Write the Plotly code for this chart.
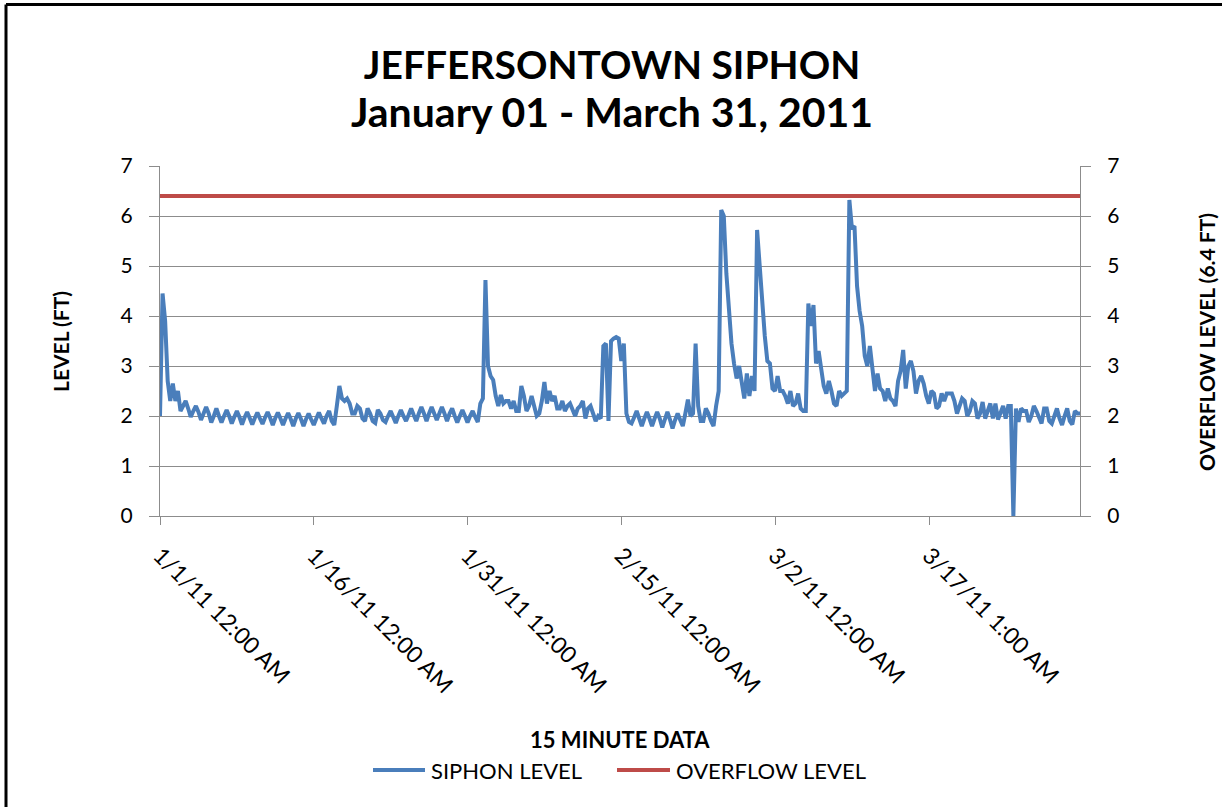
import pandas as pd
import plotly.graph_objects as go

# ---------------- data ----------------
title_line1 = "JEFFERSONTOWN SIPHON"
title_line2 = "January 01 - March 31, 2011"
series_start = "2011-01-01 00:00"
sample_step = "6h"

# siphon level (ft), four readings per day (00:00, 06:00, 12:00, 18:00), Jan 1 .. Mar 31
siphon_level = [
    2.0, 4.45, 3.9, 2.7,      # 1/1
    2.3, 2.65, 2.3, 2.5,
    2.1, 2.2, 2.3, 2.15,
    1.98, 2.1, 2.2, 2.08,
    1.92, 2.05, 2.18, 2.05,
    1.87, 2.0, 2.15, 2.0,
    1.87, 2.0, 2.12, 2.0,
    1.85, 1.98, 2.1, 1.98,
    1.83, 1.97, 2.08, 1.96,
    1.83, 1.96, 2.07, 1.95,
    1.84, 1.97, 2.08, 1.96,
    1.82, 1.96, 2.07, 1.95,
    1.82, 1.95, 2.06, 1.94,
    1.8, 1.95, 2.06, 1.94,
    1.8, 1.94, 2.05, 1.93,
    1.82, 1.95, 2.07, 1.95,   # 1/16
    1.85, 2.0, 2.1, 1.9,
    1.82, 2.2, 2.6, 2.35,
    2.3, 2.35, 2.25, 2.05,
    2.05, 2.2, 2.15, 1.95,
    1.9, 2.15, 2.05, 1.9,
    1.86, 2.12, 2.05, 1.92,
    1.88, 2.0, 2.1, 1.98,
    1.86, 2.0, 2.12, 2.0,
    1.9, 2.02, 2.15, 2.02,
    1.9, 2.05, 2.18, 2.05,
    1.9, 2.05, 2.18, 2.05,
    1.92, 2.05, 2.18, 2.05,
    1.9, 2.05, 2.15, 2.0,
    1.87, 2.0, 2.12, 2.0,
    1.87, 2.0, 2.1, 1.98,     # 1/31
    1.88, 2.25, 2.35, 4.72,
    3.0, 2.8, 2.72, 2.4,
    2.2, 2.42, 2.25, 2.3,
    2.3, 2.15, 2.3, 2.1,
    2.1, 2.6, 2.4, 2.1,
    2.2, 2.4, 2.2, 2.0,
    2.05, 2.3, 2.68, 2.25,
    2.5, 2.3, 2.4, 2.15,
    2.15, 2.3, 2.1, 2.2,
    2.25, 2.1, 2.0, 2.15,
    2.2, 2.3, 1.95, 2.15,
    2.2, 2.05, 1.9, 2.0,
    1.95, 3.4, 3.45, 1.9,
    3.5, 3.55, 3.58, 3.55,
    3.1, 3.45, 2.05, 1.88,    # 2/15
    1.85, 1.97, 2.1, 1.95,
    1.8, 1.95, 2.08, 1.95,
    1.8, 1.95, 2.08, 1.95,
    1.77, 1.93, 2.08, 1.93,
    1.75, 1.92, 2.05, 1.92,
    1.8, 2.05, 2.33, 2.0,
    2.05, 3.45, 2.2, 1.9,
    1.9, 2.15, 2.05, 1.9,
    1.8, 2.2, 2.5, 6.12,
    6.0, 4.85, 4.1, 3.45,
    3.05, 2.75, 3.0, 2.7,
    2.35, 2.85, 2.4, 2.8,
    2.5, 5.72, 5.0, 4.1,
    3.6, 3.1, 3.05, 2.55,
    2.5, 2.8, 2.5, 2.5,       # 3/2
    2.4, 2.25, 2.5, 2.2,
    2.25, 2.45, 2.15, 2.1,
    2.1, 4.25, 3.8, 4.22,
    3.05, 3.3, 2.95, 2.6,
    2.45, 2.7, 2.5, 2.25,
    2.2, 2.5, 2.4, 2.45,
    2.5, 6.32, 5.75, 5.8,
    4.6, 4.1, 3.8, 3.2,
    3.0, 3.4, 3.0, 2.5,
    2.85, 2.55, 2.5, 2.3,
    2.55, 2.35, 2.3, 2.2,
    2.7, 2.9, 3.32, 2.55,
    3.0, 3.1, 2.9, 2.45,
    2.7, 2.8, 2.65, 2.4,
    2.25, 2.5, 2.45, 2.15,    # 3/17
    2.2, 2.45, 2.3, 2.45,
    2.45, 2.45, 2.3, 2.05,
    2.2, 2.35, 2.3, 2.0,
    2.1, 2.3, 2.25, 1.95,
    2.05, 2.28, 1.95, 2.1,
    2.25, 1.95, 2.25, 1.93,
    2.05, 2.2, 1.95, 2.2,
    2.2, 0.0, 2.15, 1.88,
    2.15, 2.1, 2.1, 1.88,
    2.0, 2.2, 2.1, 1.95,
    1.85, 2.15, 2.15, 1.9,
    1.85, 2.0, 2.15, 1.95,
    1.82, 2.0, 2.15, 1.9,
    1.83, 2.1, 2.05, 2.05,    # 3/31
]
overflow_level_ft = 6.4

tick_dates = ["2011-01-01 00:00", "2011-01-16 00:00", "2011-01-31 00:00",
              "2011-02-15 00:00", "2011-03-02 00:00", "2011-03-17 01:00"]
tick_labels = ["1/1/11 12:00 AM", "1/16/11 12:00 AM", "1/31/11 12:00 AM",
               "2/15/11 12:00 AM", "3/2/11 12:00 AM", "3/17/11 1:00 AM"]
y_ticks = [0, 1, 2, 3, 4, 5, 6, 7]

series_names = ["SIPHON LEVEL", "OVERFLOW LEVEL"]
x_title = "15 MINUTE DATA"
y_title = "LEVEL (FT)"
y2_title = "OVERFLOW LEVEL (6.4 FT)"

# ---------------- figure ----------------
times = pd.date_range(series_start, periods=len(siphon_level), freq=sample_step)

W, H = 1222, 807
ML, MR, MT, MB = 160, 142, 166, 291
PW, PH = W - ML - MR, H - MT - MB

def px(x):
    return (x - ML) / PW

def py(y):
    return (H - MB - y) / PH

FONT = "Lato"
BLUE = "#4A7EBB"
RED = "#BE4B48"
GRID = "#8C8C8C"
colors = [BLUE, RED]

fig = go.Figure()
fig.add_trace(go.Scatter(
    x=times, y=siphon_level, mode="lines", name=series_names[0],
    line=dict(color=BLUE, width=4), yaxis="y", showlegend=False))
fig.add_trace(go.Scatter(
    x=[times[0], times[-1]], y=[overflow_level_ft, overflow_level_ft],
    mode="lines", name=series_names[1],
    line=dict(color=RED, width=4), yaxis="y2", showlegend=False))

axis_common = dict(
    range=[0, 7], tickvals=y_ticks, ticks="outside", ticklen=10,
    tickcolor=GRID, showline=True, linecolor=GRID, linewidth=1,
    zeroline=False, tickfont=dict(family=FONT, size=21, color="#000"),
    ticklabelstandoff=12,
)

title_html = ('<span style="font-size:39px"><b>' + title_line1 + '</b></span><br>'
              '<span style="font-size:41px"><b>' + title_line2 + '</b></span>')

fig.update_layout(
    width=W, height=H,
    margin=dict(l=ML, r=MR, t=MT, b=MB),
    paper_bgcolor="white", plot_bgcolor="white",
    font=dict(family=FONT, color="#000"),
    title=dict(text=title_html, x=612 / W, xanchor="center",
               y=1 - 79 / H, yanchor="middle",
               font=dict(family=FONT, size=37, color="#000")),
    xaxis=dict(
        type="date", range=[times[0], times[-1]],
        tickvals=tick_dates, ticktext=tick_labels, tickangle=45,
        ticks="outside", ticklen=8, tickcolor=GRID,
        showline=True, linecolor=GRID, linewidth=1, showgrid=False,
        zeroline=False, tickfont=dict(family=FONT, size=23, color="#000"),
        ticklabelstandoff=8,
    ),
    yaxis=dict(showgrid=True, gridcolor=GRID, gridwidth=1, **axis_common),
    yaxis2=dict(overlaying="y", side="right", showgrid=False, **axis_common),
    showlegend=False,
    hovermode=False,
)

fig.add_annotation(text="<b>" + x_title + "</b>", xref="paper", yref="paper",
                   x=px(620), y=py(739), xanchor="center", yanchor="middle",
                   showarrow=False, font=dict(family=FONT, size=22, color="#000"))
fig.add_annotation(text="<b>" + y_title + "</b>", xref="paper", yref="paper",
                   x=px(60), y=py(342), xanchor="center", yanchor="middle",
                   textangle=-90, showarrow=False,
                   font=dict(family=FONT, size=21, color="#000"))
fig.add_annotation(text="<b>" + y2_title + "</b>", xref="paper", yref="paper",
                   x=px(1206), y=py(342), xanchor="center", yanchor="middle",
                   textangle=-90, showarrow=False,
                   font=dict(family=FONT, size=21, color="#000"))

# legend (line sample + label for each series)
legend_sample_x = [(373, 425), (617, 670)]
for name, color, (x0, x1) in zip(series_names, colors, legend_sample_x):
    fig.add_shape(type="line", xref="paper", yref="paper",
                  x0=px(x0), x1=px(x1), y0=py(770), y1=py(770),
                  line=dict(color=color, width=4))
    fig.add_annotation(text=name, xref="paper", yref="paper",
                       x=px(x1 + 4), y=py(770), xanchor="left", yanchor="middle",
                       showarrow=False, font=dict(family=FONT, size=22, color="#000"))

# outer chart border (left and top edges visible)
fig.add_shape(type="line", xref="paper", yref="paper",
              x0=px(6), y0=py(4.5), x1=px(6), y1=py(820),
              line=dict(color="black", width=3))
fig.add_shape(type="line", xref="paper", yref="paper",
              x0=px(6), y0=py(4.5), x1=px(1230), y1=py(4.5),
              line=dict(color="black", width=3))

fig.write_html("out.html", config={"displayModeBar": False},
               post_script="document.body.style.margin='0';document.body.style.overflow='hidden';")
